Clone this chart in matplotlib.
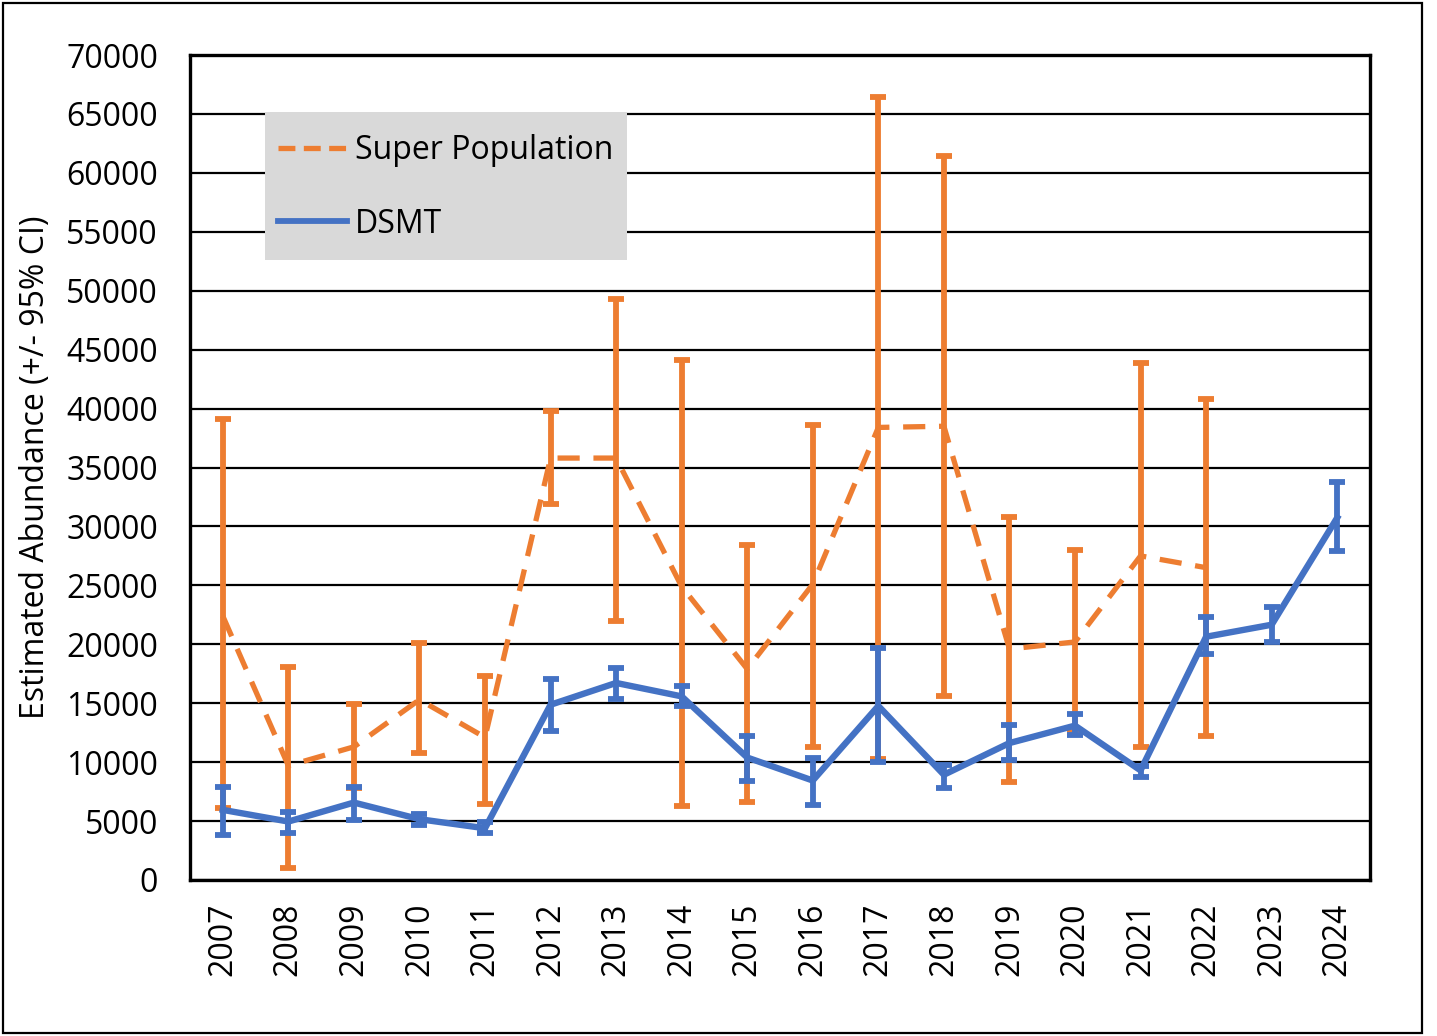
import matplotlib
matplotlib.use("Agg")
import matplotlib.pyplot as plt
from matplotlib.patches import Rectangle
from matplotlib.lines import Line2D
import numpy as np

plt.rcParams['font.family'] = ['Open Sans', 'DejaVu Sans']

years = [str(y) for y in range(2007, 2025)]

super_years = years[:16]
super_pop = [22400, 9700, 11300, 15300, 12100, 35800, 35800, 24900, 17900,
             25100, 38400, 38500, 19600, 20200, 27500, 26500]
super_hi = [39100, 18100, 14900, 20100, 17300, 39800, 49300, 44100, 28400,
            38600, 66400, 61400, 30800, 28000, 43900, 40800]
super_lo = [6100, 1000, 7800, 10800, 6450, 31900, 22000, 6300, 6600,
            11300, 10300, 15600, 8300, 12700, 11300, 12200]

dsmt = [5950, 4960, 6570, 5160, 4390, 14870, 16720, 15580, 10390, 8440,
        14770, 8930, 11620, 13100, 9300, 20640, 21660, 30740]
dsmt_hi = [7880, 5800, 7930, 5580, 4960, 17050, 18020, 16460, 12240, 10390,
           19710, 9740, 13170, 14100, 9700, 22310, 23180, 33810]
dsmt_lo = [3820, 3970, 5100, 4670, 3970, 12660, 15320, 14770, 8440, 6330,
           9970, 7790, 10160, 12300, 8740, 19170, 20200, 27900]

ORANGE = '#ED7D31'
BLUE = '#4472C4'
FS = 23

W, H = 1437, 1036
fig = plt.figure(figsize=(W / 100, H / 100), dpi=100)
AX_L, AX_R, AX_T, AX_B = 190, 1370, 55, 880
ax = fig.add_axes([AX_L / W, 1 - AX_B / H, (AX_R - AX_L) / W, (AX_B - AX_T) / H])
AW, AH = AX_R - AX_L, AX_B - AX_T

xs = np.arange(len(years))
xs_sup = xs[:len(super_years)]

sp = np.array(super_pop)
sp_err = [sp - np.array(super_lo), np.array(super_hi) - sp]
ds = np.array(dsmt)
ds_err = [ds - np.array(dsmt_lo), np.array(dsmt_hi) - ds]

# Super population line (dashed)
ax.plot(xs_sup, sp, color=ORANGE, lw=3.8, dashes=(4.2, 2.6), dash_capstyle='butt',
        zorder=3)
ax.errorbar(xs_sup, sp, yerr=sp_err, fmt='none', ecolor=ORANGE, elinewidth=4.2,
            capsize=6, capthick=4.2, zorder=4)

# DSMT
ax.plot(xs, ds, color=BLUE, lw=4.6, zorder=5, solid_joinstyle='miter')
ax.errorbar(xs, ds, yerr=ds_err, fmt='none', ecolor=BLUE, elinewidth=4.2,
            capsize=6, capthick=4.2, zorder=6)

ax.set_xlim(-0.5, len(years) - 0.5)
ax.set_ylim(0, 70000)
ax.set_yticks(np.arange(0, 70001, 5000))
ax.set_xticks(xs)
ax.set_xticklabels(years, rotation=90)
ax.tick_params(axis='both', length=0, labelsize=FS, colors='black')
ax.tick_params(axis='y', pad=23)
ax.tick_params(axis='x', pad=16)

ax.yaxis.grid(True, color='black', lw=1.6)
ax.set_axisbelow(True)
for s in ax.spines.values():
    s.set_linewidth(2.4)
    s.set_color('black')

ax.set_ylabel('Estimated Abundance (+/- 95% CI)', fontsize=FS)
ax.yaxis.set_label_coords((52 - AX_L) / AW, (AX_B - 467) / AH)

# legend box (grey panel)
ax.add_patch(Rectangle(((265 - AX_L) / AW, (AX_B - 260) / AH),
                       (627 - 265) / AW, (260 - 112) / AH,
                       transform=ax.transAxes, facecolor='#D9D9D9',
                       edgecolor='none', zorder=7))

handles = [Line2D([0], [0], color=ORANGE, lw=3.8, dashes=(3.2, 1.6)),
           Line2D([0], [0], color=BLUE, lw=4.2)]
leg = ax.legend(handles, ['Super Population', 'DSMT'], loc='upper left',
                bbox_to_anchor=((278 - AX_L) / AW, (AX_B - 134) / AH),
                borderaxespad=0, borderpad=0, frameon=False,
                fontsize=FS, handlelength=2.15, handletextpad=0.25,
                labelspacing=1.27)
leg.set_zorder(8)

fig.patches.append(Rectangle((3 / W, 3 / H), (1422 - 3) / W, (1033 - 3) / H,
                             transform=fig.transFigure, fill=False,
                             edgecolor='black', lw=1.6))

fig.savefig('out.png', dpi=100, facecolor='white')
